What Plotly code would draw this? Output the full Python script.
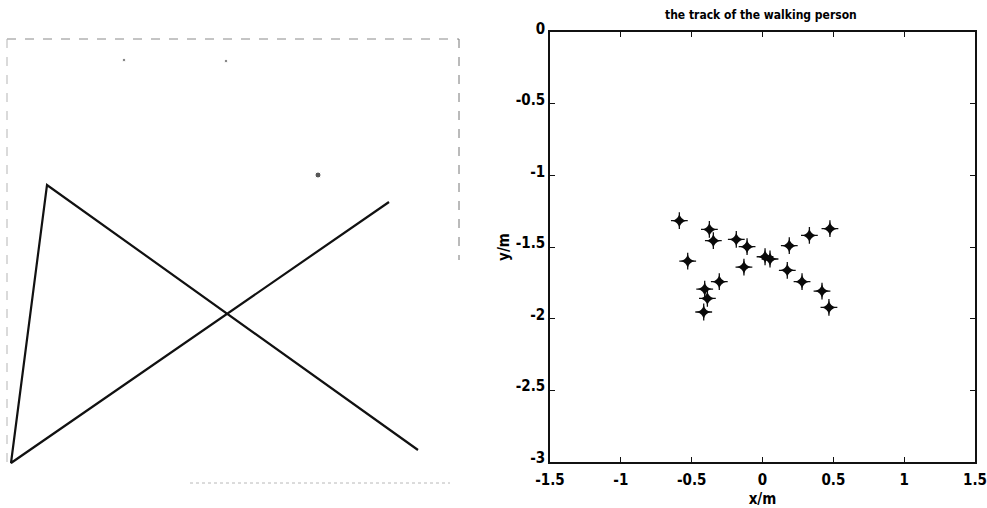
import plotly.graph_objects as go

# Track sketched on the floor plan (frame units, origin at lower-left corner of the sheet)
sketch_x = [411, 40, 4, 382]
sketch_y = [33, 298, 20, 281]

# Small marks on the sheet
sheet_dot_x = [117, 219, 311]
sheet_dot_y = [423, 422, 308]

# Estimated positions of the walking person (metres)
track_x = [-0.587, -0.528, -0.375, -0.347, -0.408, -0.389, -0.415, -0.305, -0.185, -0.109,
           -0.131, 0.018, 0.053, 0.189, 0.175, 0.331, 0.279, 0.476, 0.420, 0.469]
track_y = [-1.316, -1.598, -1.377, -1.456, -1.794, -1.859, -1.954, -1.742, -1.447, -1.498,
           -1.640, -1.568, -1.584, -1.491, -1.663, -1.419, -1.742, -1.372, -1.808, -1.922]

x_ticks = [-1.5, -1, -0.5, 0, 0.5, 1, 1.5]
x_tick_text = ["-1.5", "-1", "-0.5", "0", "0.5", "1", "1.5"]
y_ticks = [0, -0.5, -1, -1.5, -2, -2.5, -3]
y_tick_text = ["0", "-0.5", "-1", "-1.5", "-2", "-2.5", "-3"]

W, H = 987, 508
FONT = "DejaVu Sans Condensed, Liberation Sans Narrow, Liberation Sans, Arial, sans-serif"
TICK_FONT = dict(size=15, family=FONT, color="#000", weight="bold")

fig = go.Figure()

# Left: the sketched path
fig.add_trace(go.Scatter(
    x=sketch_x, y=sketch_y, mode="lines",
    line=dict(color="#111111", width=2.2),
    xaxis="x", yaxis="y", showlegend=False, hoverinfo="skip"))
fig.add_trace(go.Scatter(
    x=sheet_dot_x, y=sheet_dot_y, mode="markers",
    marker=dict(color="#111111", size=[3, 3, 6], symbol="circle"),
    xaxis="x", yaxis="y", showlegend=False, hoverinfo="skip"))

# Right: estimated track, drawn as a filled blob with thin cross arms
fig.add_trace(go.Scatter(
    x=track_x, y=track_y, mode="markers",
    marker=dict(symbol="cross-thin-open", size=12, color="#111111",
                line=dict(width=1.3, color="#111111")),
    xaxis="x2", yaxis="y2", showlegend=False, hoverinfo="skip"))
fig.add_trace(go.Scatter(
    x=track_x, y=track_y, mode="markers",
    marker=dict(symbol="star-diamond", size=10, color="#0a0a0a",
                line=dict(width=0)),
    xaxis="x2", yaxis="y2", showlegend=False))

left_dom_x = [7 / W, 459 / W]
left_dom_y = [1 - 483 / H, 1 - 39 / H]
right_dom_x = [550 / W, 975 / W]
right_dom_y = [1 - 461.7 / H, 1 - 32.3 / H]

axis_common = dict(
    ticks="inside", ticklen=5, tickwidth=1.2, tickcolor="#111",
    showline=True, linecolor="#111", linewidth=1.6, mirror="ticks",
    showgrid=False, zeroline=False, automargin=False, fixedrange=True,
    tickfont=TICK_FONT,
)

fig.update_layout(
    width=W, height=H,
    margin=dict(l=0, r=0, t=0, b=0, autoexpand=False),
    paper_bgcolor="white", plot_bgcolor="white",
    font=dict(family=FONT, color="#111111", size=14),
    xaxis=dict(domain=left_dom_x, range=[0, 452], visible=False, fixedrange=True,
               automargin=False),
    yaxis=dict(domain=left_dom_y, range=[0, 444], visible=False, fixedrange=True,
               automargin=False),
    xaxis2=dict(domain=right_dom_x, range=[-1.5, 1.5], anchor="y2",
                tickvals=x_ticks, ticktext=x_tick_text, ticklabelstandoff=3,
                title=dict(text="x/m", font=TICK_FONT, standoff=6),
                **axis_common),
    yaxis2=dict(domain=right_dom_y, range=[-3, 0], anchor="x2",
                tickvals=y_ticks, ticktext=y_tick_text, ticklabelshift=-4,
                title=dict(text="y/m", font=TICK_FONT, standoff=2),
                **axis_common),
    annotations=[dict(text="the track of the walking person", x=761 / W, y=1 - 15 / H,
                      xref="paper", yref="paper", xanchor="center", yanchor="middle",
                      showarrow=False,
                      font=dict(size=12, family=FONT, color="#000", weight="bold"))],
    shapes=[
        # faint border of the scanned sheet
        dict(type="line", xref="paper", yref="paper", x0=7 / W, x1=459 / W,
             y0=1 - 39 / H, y1=1 - 39 / H, line=dict(color="#8a8a8a", width=1, dash="dash")),
        dict(type="line", xref="paper", yref="paper", x0=7 / W, x1=7 / W,
             y0=1 - 39 / H, y1=1 - 470 / H, line=dict(color="#b5b5b5", width=1, dash="dash")),
        dict(type="line", xref="paper", yref="paper", x0=459 / W, x1=459 / W,
             y0=1 - 39 / H, y1=1 - 260 / H, line=dict(color="#777777", width=1, dash="dash")),
        dict(type="line", xref="paper", yref="paper", x0=190 / W, x1=450 / W,
             y0=1 - 483 / H, y1=1 - 483 / H, line=dict(color="#b8b8b8", width=1, dash="dot")),
    ],
)

fig.write_html("out.html")
